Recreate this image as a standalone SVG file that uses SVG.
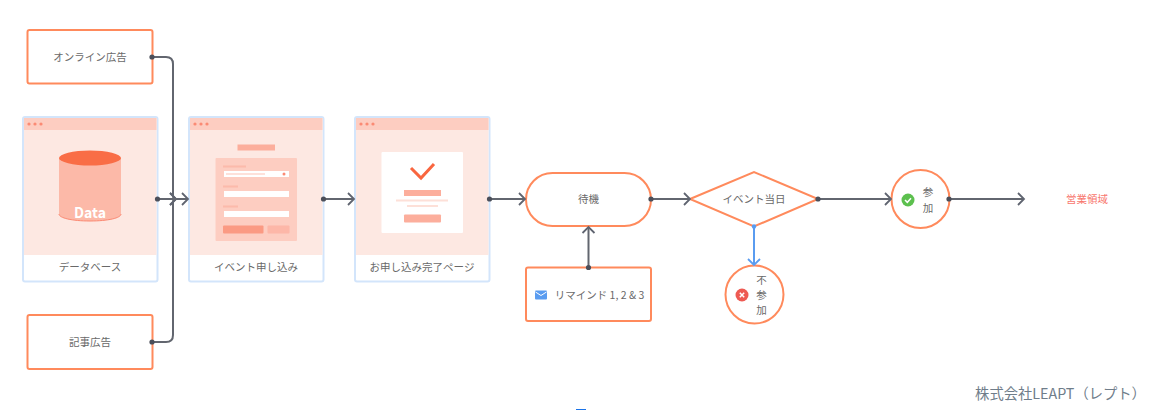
<svg xmlns="http://www.w3.org/2000/svg" width="1164" height="410" viewBox="0 0 1164 410">
<style>
text{font-family:"Noto Sans CJK JP","Noto Sans",sans-serif;font-size:10.5px;fill:#696969;text-anchor:middle;dominant-baseline:central}
.o{fill:#fff;stroke:#ff8a5c;stroke-width:2}
.card{fill:#fff;stroke:#d3e5fb;stroke-width:2}
.body{fill:#fde8e2}
.bar{fill:#fdcdc1}
.dot{fill:#fb8a74}
.c{fill:none;stroke:#62666f;stroke-width:2}
.a{marker-end:url(#arrow);marker-start:url(#start)}
.p1{fill:#fcae9c}
.p2{fill:#fdcdc1}
.w{fill:#fff}
</style>
<defs>
<marker id="arrow" markerUnits="userSpaceOnUse" markerWidth="12" markerHeight="16" refX="8" refY="8" orient="auto"><path d="M2 2L8 8L2 14" fill="none" stroke="#5f6470" stroke-width="1.800"/></marker>
<marker id="arrowb" markerUnits="userSpaceOnUse" markerWidth="12" markerHeight="16" refX="8" refY="8" orient="auto"><path d="M2 2L8 8L2 14" fill="none" stroke="#5a9cf0" stroke-width="1.800"/></marker>
<marker id="start" markerUnits="userSpaceOnUse" markerWidth="8" markerHeight="8" refX="4" refY="4"><circle cx="4" cy="4" r="2.600" fill="#4b4f5a"/></marker>
<marker id="startb" markerUnits="userSpaceOnUse" markerWidth="8" markerHeight="8" refX="4" refY="4"><circle cx="4" cy="4" r="2.200" fill="#5a9cf0"/></marker>
<g id="dots"><circle cx="0" cy="0" r="1.600" class="dot"/><circle cx="6" cy="0" r="1.600" class="dot"/><circle cx="12" cy="0" r="1.600" class="dot"/></g>
</defs>

<g id="node-online"><rect class="o" x="27.500" y="30" width="125" height="53.500" rx="2"/><text x="90" y="56">オンライン広告</text></g>
<g id="node-article"><rect class="o" x="27.500" y="315" width="125" height="54" rx="2"/><text x="90" y="341">記事広告</text></g>

<g id="node-database">
<rect class="card" x="23" y="117" width="134.500" height="164.500" rx="2"/>
<rect class="body" x="24" y="118" width="132.500" height="137"/><rect class="bar" x="24" y="118" width="132.500" height="12"/>
<use href="#dots" x="29" y="124"/>
<path d="M59 158V214C59 218 72 221 90 221S121 218 121 214V158Z" fill="#fcb9a8"/>
<path d="M59 214C59 218 72 221 90 221S121 218 121 214" fill="none" stroke="#fb8a74" stroke-width="1"/>
<ellipse cx="90" cy="158" rx="31" ry="7.500" fill="#f96d46"/>
<text x="90" y="211.500" style="font-size:14px;font-weight:700;fill:#fff">Data</text>
<text x="90" y="266">データベース</text>
</g>

<g id="node-form">
<rect class="card" x="189" y="117" width="134.500" height="164.500" rx="2"/>
<rect class="body" x="190" y="118" width="132.500" height="137"/><rect class="bar" x="190" y="118" width="132.500" height="12"/>
<use href="#dots" x="195" y="124"/>
<rect class="p1" x="237.500" y="144.500" width="37.500" height="6"/>
<rect class="p2" x="215.500" y="158" width="81.500" height="83" rx="1"/>
<rect class="p1" x="223" y="165.500" width="23" height="2" opacity=".6"/>
<rect class="w" x="224" y="171" width="65" height="6"/>
<rect class="p2" x="226" y="173" width="39" height="2" opacity=".6"/>
<circle cx="284" cy="174" r="1.500" fill="#fb8a74"/>
<rect class="p1" x="223" y="185.500" width="15" height="2" opacity=".6"/>
<rect class="w" x="224" y="191" width="65" height="6"/>
<rect class="p1" x="223" y="205.500" width="15" height="2" opacity=".6"/>
<rect class="w" x="224" y="211" width="65" height="6"/>
<rect x="223" y="225.500" width="40.500" height="8" rx="1" fill="#fb9a83"/>
<rect class="p1" x="267.500" y="225.500" width="22" height="8" rx="1" opacity=".7"/>
<text x="256" y="266">イベント申し込み</text>
</g>

<g id="node-complete">
<rect class="card" x="355" y="117" width="134.500" height="164.500" rx="2"/>
<rect class="body" x="356" y="118" width="132.500" height="137"/><rect class="bar" x="356" y="118" width="132.500" height="12"/>
<use href="#dots" x="361" y="124"/>
<rect class="w" x="381.500" y="152" width="81.500" height="81" rx="1"/>
<path d="M411 168L421 178L434 164" fill="none" stroke="#f9663f" stroke-width="3"/>
<rect class="p1" x="404" y="190" width="37" height="6"/>
<rect x="396" y="199.500" width="52" height="2" fill="#fde0d8"/>
<rect x="407" y="205" width="31" height="2" fill="#fde0d8"/>
<rect x="404" y="214.500" width="37" height="8" rx="1" fill="#fcae9c"/>
<text x="422" y="266">お申し込み完了ページ</text>
</g>

<g id="node-wait"><rect class="o" x="526" y="173" width="125" height="53" rx="26.500"/><text x="588.500" y="198.500">待機</text></g>

<g id="node-reminder"><rect class="o" x="526" y="267.500" width="125" height="53.500" rx="2"/>
<rect x="535" y="290.500" width="12" height="9" rx="1" fill="#5a9cf0"/><path d="M535.500 292L541 295.500L546.500 292" fill="none" stroke="#fff" stroke-width="1"/>
<text x="599.500" y="294.500">リマインド 1, 2 &amp; 3</text></g>

<g id="node-event"><path class="o" d="M690 199L754 172L818 199L754 226.500Z"/><text x="754" y="198.500">イベント当日</text></g>

<g id="node-absent"><circle class="o" cx="754.500" cy="294.500" r="29"/>
<circle cx="742" cy="295" r="6.500" fill="#ee5a52"/><path d="M739.800 292.800L744.200 297.200M744.200 292.800L739.800 297.200" stroke="#fff" stroke-width="1.500"/>
<text x="761.500" y="279.500">不</text><text x="761.500" y="294.500">参</text><text x="761.500" y="309.500">加</text></g>

<g id="node-attend"><circle class="o" cx="920.500" cy="199" r="29"/>
<circle cx="908" cy="200" r="6.500" fill="#5cc04e"/><path d="M905 200L907.300 202.300L911 198.300" fill="none" stroke="#fff" stroke-width="1.500"/>
<text x="928" y="191.500">参</text><text x="928" y="207">加</text></g>

<g id="node-sales"><text x="1087" y="198.500" style="fill:#f8766d">営業領域</text></g>

<g id="connectors">
<path class="c a" d="M152 57H166Q173 57 173 64V196Q173 199 176 199"/>
<path class="c a" d="M152 342H166Q173 342 173 335V202Q173 199 176 199"/>
<path class="c a" d="M157.500 199H188"/>
<path class="c a" d="M323.500 199H354"/>
<path class="c a" d="M489.500 199H525"/>
<path class="c a" d="M651 199H690"/>
<path class="c a" d="M588.500 267.500V227"/>
<path class="c a" d="M818 199H891"/>
<path class="c a" d="M949 199H1024"/>
<path d="M754 226.500V265" fill="none" stroke="#5a9cf0" stroke-width="2" marker-start="url(#startb)" marker-end="url(#arrowb)"/>
</g>

<text x="1060.500" y="392.500" style="font-size:14.300px;fill:#6f7d8a">株式会社LEAPT（レプト）</text>
<rect x="576" y="409" width="10" height="1" fill="#1a73e8"/>
</svg>
